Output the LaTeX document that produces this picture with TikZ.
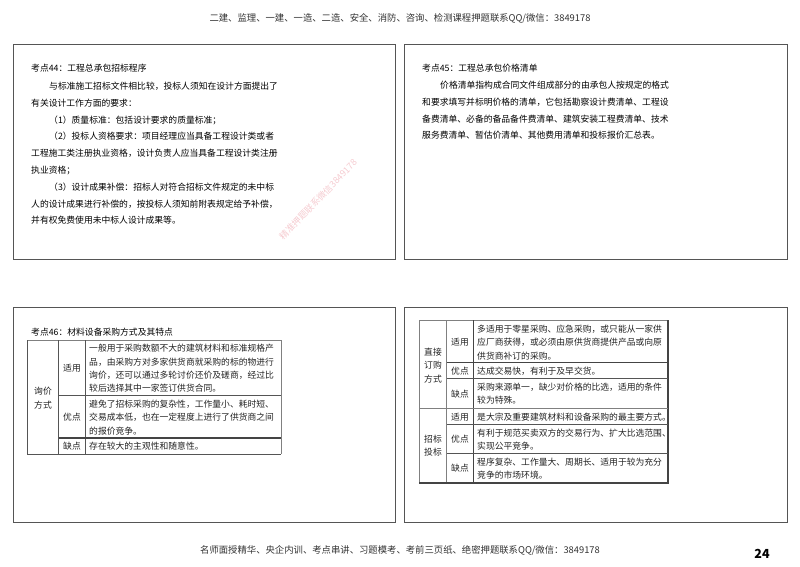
\documentclass[tikz,border=0pt]{standalone}
\usepackage{fontspec}
\setmainfont{Noto Sans CJK SC}
\usetikzlibrary{positioning}

\definecolor{framegray}{HTML}{555555}
\definecolor{softgray}{HTML}{808080}
\definecolor{inkgray}{HTML}{222222}
\definecolor{bannergray}{HTML}{333333}
\definecolor{markpink}{HTML}{F5CBD0}

\tikzset{
    panel/.style={draw=framegray, line width=1pt},
    rule/.style={draw=framegray, line width=0.9pt},
    softrule/.style={draw=softgray, line width=0.8pt},
    heavyrule/.style={draw=framegray!80!black, line width=1.2pt},
    body/.style={inner sep=0pt, anchor=north west, align=left, text=black, font=\fontsize{8.8}{16.8}\selectfont},
    cell/.style={inner sep=0pt, align=center, text=inkgray, font=\fontsize{8.8}{13.3}\selectfont},
    filltext/.style={inner sep=0pt, anchor=west, align=left, text=inkgray, font=\fontsize{8.8}{13.3}\selectfont},
    banner/.style={inner sep=0pt, text=bannergray, font=\fontsize{9.35}{11}\selectfont},
    stampmark/.style={inner sep=0pt, rotate=46, text=markpink, font=\fontsize{9}{10}\selectfont}
}

\begin{document}
\begin{tikzpicture}[x=1pt, y=-1pt]
\useasboundingbox (0,0) rectangle (800,566);

\node[banner] (top) at (400,18.5) {二建、监理、一建、一造、二造、安全、消防、咨询、检测课程押题联系QQ/微信：3849178};
\node[banner] (bottom) at (400,550) {名师面授精华、央企内训、考点串讲、习题模考、考前三页纸、绝密押题联系QQ/微信：3849178};
\node[inner sep=0pt, font=\fontsize{12.5}{16}\selectfont\bfseries] (page) at (762,553.5) {24};

% four panels
\draw[panel] (13,44) rectangle (395.5,259);
\draw[panel] (404,44) rectangle (787.5,259);
\draw[panel] (13,307) rectangle (395.5,522);
\draw[panel] (404,307) rectangle (787.5,522);

% watermark
\node[stampmark] (stamp) at (318,199.5) {精准押题联系微信3849178};

\node[body] (text44) at (31,64) {考点44：工程总承包招标程序\\[1pt]
\hspace{18pt}与标准施工招标文件相比较，投标人须知在设计方面提出了\\
有关设计工作方面的要求：\\
\hspace{18pt}（1）质量标准：包括设计要求的质量标准；\\
\hspace{18pt}（2）投标人资格要求：项目经理应当具备工程设计类或者\\
工程施工类注册执业资格，设计负责人应当具备工程设计类注册\\
执业资格；\\
\hspace{18pt}（3）设计成果补偿：招标人对符合招标文件规定的未中标\\
人的设计成果进行补偿的，按投标人须知前附表规定给予补偿，\\
并有权免费使用未中标人设计成果等。};

\node[body] (text45) at (422,64) {考点45：工程总承包价格清单\\[0pt]
\hspace{18pt}价格清单指构成合同文件组成部分的由承包人按规定的格式\\
和要求填写并标明价格的清单，它包括勘察设计费清单、工程设\\
备费清单、必备的备品备件费清单、建筑安装工程费清单、技术\\
服务费清单、暂估价清单、其他费用清单和投标报价汇总表。};

\node[body] (text46) at (31,327.5) {考点46：材料设备采购方式及其特点};

% inquiry table
\draw[softrule] (27,340) -- (281,340) -- (281,454);
\draw[rule] (27,340) -- (27,454) -- (281,454);
\foreach \x in {58.5,85.5} \draw[rule] (\x,340) -- (\x,454);
\draw[rule] (58.5,395.5) -- (281,395.5);
\draw[heavyrule] (58.5,438) -- (281,438);

\node[cell] (inquiry) at (43,398) {询价\\方式};
\node[cell] (inqfit) at (72,368.5) {适用};
\node[cell] (inqgood) at (72,417.5) {优点};
\node[cell] (inqbad) at (72,446.5) {缺点};
\node[filltext] (inqfittext) at (89,368.5) {一般用于采购数额不大的建筑材料和标准规格产\\品，由采购方对多家供货商就采购的标的物进行\\询价，还可以通过多轮讨价还价及磋商，经过比\\较后选择其中一家签订供货合同。};
\node[filltext] (inqgoodtext) at (89,417.5) {避免了招标采购的复杂性，工作量小、耗时短、\\交易成本低，也在一定程度上进行了供货商之间\\的报价竞争。};
\node[filltext] (inqbadtext) at (89,446.5) {存在较大的主观性和随意性。};

% direct order and tender table
\draw[softrule] (419,483) -- (419,320) -- (668,320);
\draw[softrule] (446.5,320) -- (446.5,483);
\draw[heavyrule] (473.5,320) -- (473.5,483);
\draw[heavyrule] (668,320) -- (668,483) -- (419,483);
\draw[softrule] (419,408.5) -- (668,408.5);
\draw[heavyrule] (446.5,362.5) -- (668,362.5);
\foreach \y in {378.5,424,453} \draw[rule] (446.5,\y) -- (668,\y);

\node[cell] (direct) at (433,365.5) {直接\\订购\\方式};
\node[cell] (tender) at (433,446) {招标\\投标};
\node[cell] (dirfit) at (460,342.5) {适用};
\node[cell] (dirgood) at (460,371.5) {优点};
\node[cell] (dirbad) at (460,394) {缺点};
\node[cell] (tenfit) at (460,417) {适用};
\node[cell] (tengood) at (460,439.5) {优点};
\node[cell] (tenbad) at (460,468.5) {缺点};
\node[filltext] (dirfittext) at (477,342.5) {多适用于零星采购、应急采购，或只能从一家供\\应厂商获得，或必须由原供货商提供产品或向原\\供货商补订的采购。};
\node[filltext] (dirgoodtext) at (477,371.5) {达成交易快，有利于及早交货。};
\node[filltext] (dirbadtext) at (477,394) {采购来源单一，缺少对价格的比选，适用的条件\\较为特殊。};
\node[filltext] (tenfittext) at (477,417) {是大宗及重要建筑材料和设备采购的最主要方式。};
\node[filltext] (tengoodtext) at (477,439.5) {有利于规范买卖双方的交易行为、扩大比选范围、\\实现公平竞争。};
\node[filltext] (tenbadtext) at (477,468.5) {程序复杂、工作量大、周期长、适用于较为充分\\竞争的市场环境。};

\end{tikzpicture}
\end{document}
